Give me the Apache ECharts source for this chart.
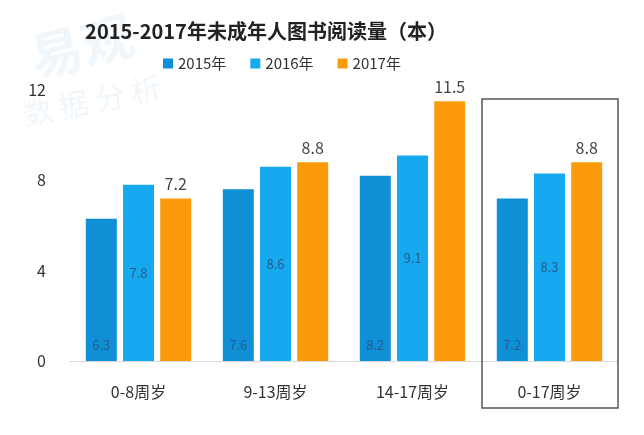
<!DOCTYPE html>
<html><head><meta charset="utf-8">
<script src="https://cdn.jsdelivr.net/npm/echarts@6/dist/echarts.min.js"></script>
<style>html,body{margin:0;padding:0;background:#fff}#c{width:644px;height:435px}</style>
</head><body><div id="c"></div>
<script>
var categories = ['0-8周岁', '9-13周岁', '14-17周岁', '0-17周岁'];
var seriesNames = ['2015年', '2016年', '2017年'];
var v2015 = [6.3, 7.6, 8.2, 7.2];
var v2016 = [7.8, 8.6, 9.1, 8.3];
var v2017 = [7.2, 8.8, 11.5, 8.8];
var yTicks = [0, 4, 8, 12];

var font = '"Noto Sans CJK SC", "Noto Sans", sans-serif';
var chart = echarts.init(document.getElementById('c'));
var option = {
  backgroundColor: '#fff',
  animation: false,
  textStyle: { fontFamily: font },
  title: {
    text: '2015-2017年未成年人图书阅读量（本）',
    left: 261, top: 16, textAlign: 'center',
    textStyle: { fontSize: 20, fontWeight: 'bold', color: '#222', fontFamily: font }
  },
  legend: {
    data: seriesNames, top: 51, left: 158, itemWidth: 10, itemHeight: 10, itemGap: 24,
    icon: 'rect',
    textStyle: { fontSize: 15, color: '#333', fontFamily: font }
  },
  grid: { left: 70, right: 26, top: 90, bottom: 74 },
  xAxis: {
    type: 'category', data: categories,
    axisLine: { lineStyle: { color: '#d9d9d9' } },
    axisTick: { show: false },
    axisLabel: { fontSize: 16, color: '#333', margin: 23, fontFamily: font }
  },
  yAxis: {
    type: 'value', min: yTicks[0], max: yTicks[yTicks.length - 1], interval: 4,
    splitLine: { show: false }, axisLine: { show: false }, axisTick: { show: false },
    axisLabel: { fontSize: 16, color: '#333', margin: 24, fontFamily: font }
  },
  series: [
    { name: seriesNames[0], type: 'bar', data: v2015, barWidth: 31, barGap: '20%',
      itemStyle: { color: '#0f8fd6' },
      label: { show: true, position: 'insideBottom', distance: 9, fontSize: 13, color: '#245e8c' } },
    { name: seriesNames[1], type: 'bar', data: v2016, barWidth: 31,
      itemStyle: { color: '#16a9ef' },
      label: { show: true, position: 'inside', fontSize: 13, color: '#245e8c' } },
    { name: seriesNames[2], type: 'bar', data: v2017, barWidth: 31,
      itemStyle: { color: '#fb9a0b' },
      label: { show: true, position: 'top', distance: 6, fontSize: 16, color: '#444' } }
  ]
};
chart.setOption(option);

// highlight box around the last category, derived from axis positions
var last = categories.length - 1;
var c0 = chart.convertToPixel({ xAxisIndex: 0 }, categories[last]);
var band = chart.convertToPixel({ xAxisIndex: 0 }, categories[1]) - chart.convertToPixel({ xAxisIndex: 0 }, categories[0]);
var yTop = chart.convertToPixel({ yAxisIndex: 0 }, 11.6);
chart.setOption({
  graphic: [
    { type: 'rect', shape: { x: c0 - band / 2 + 1, y: yTop, width: band - 1, height: 408 - yTop },
      style: { fill: 'none', stroke: '#555', lineWidth: 1.5 }, z: 10 },
    { type: 'text', left: 25, top: 8, rotation: 0.25,
      style: { text: '易观', fill: 'rgba(170,205,230,0.18)', font: 'bold 52px "Noto Sans CJK SC"' }, z: -1 },
    { type: 'text', left: 20, top: 72, rotation: 0.2,
      style: { text: '数 据 分 析', fill: 'rgba(170,205,230,0.18)', font: '30px "Noto Sans CJK SC"' }, z: -1 }
  ]
});
</script></body></html>
